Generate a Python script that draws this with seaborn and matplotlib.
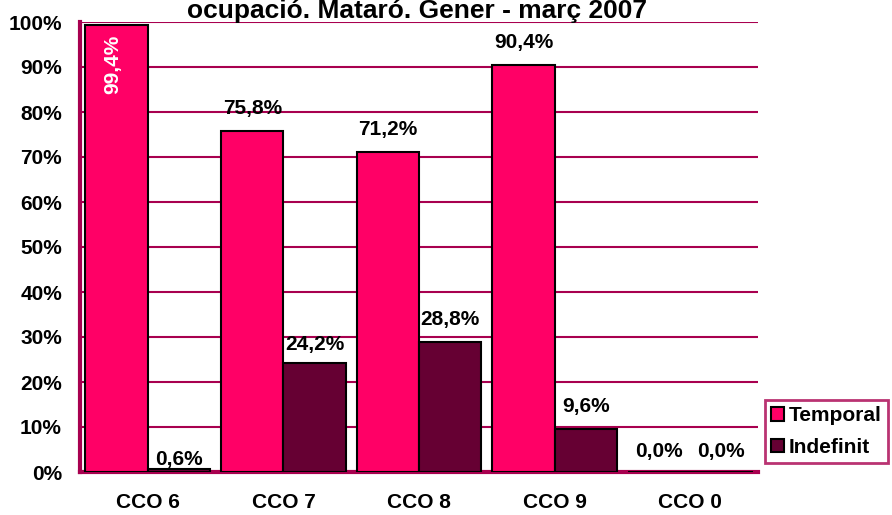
import matplotlib
matplotlib.use("Agg")
import matplotlib.pyplot as plt
import seaborn as sns
import pandas as pd
from matplotlib.patches import Patch

categories = ["CCO 6", "CCO 7", "CCO 8", "CCO 9", "CCO 0"]
temporal = [99.4, 75.8, 71.2, 90.4, 0.0]
indefinit = [0.6, 24.2, 28.8, 9.6, 0.0]
series = ["Temporal", "Indefinit"]
yticks = [0, 10, 20, 30, 40, 50, 60, 70, 80, 90, 100]
title = "ocupació. Mataró. Gener - març 2007"

c_temp = "#FF0066"
c_ind = "#660033"
c_axis = "#A8004F"
FS = 15

# label gap above bar top, in pixels (layout only)
default_gap = 17
special_gap = {("Indefinit", "CCO 6"): 4, ("Indefinit", "CCO 7"): 13,
               ("Temporal", "CCO 0"): 15, ("Indefinit", "CCO 0"): 15}

df = pd.DataFrame({
    "cat": categories * 2,
    "serie": ["Temporal"] * len(categories) + ["Indefinit"] * len(categories),
    "val": temporal + indefinit,
})

sns.set_theme(style="white")
plt.rcParams["font.family"] = ["Liberation Sans", "DejaVu Sans"]
plt.rcParams["font.weight"] = "bold"
plt.rcParams["text.color"] = "black"
plt.rcParams["xtick.color"] = "black"
plt.rcParams["ytick.color"] = "black"

fig = plt.figure(figsize=(8.92, 5.15), dpi=100)
ax = fig.add_axes([80/892, 1-472/515, (758-80)/892, (472-22)/515])

sns.barplot(data=df, x="cat", y="val", hue="serie", order=categories,
            hue_order=series, palette=[c_temp, c_ind], width=0.92,
            saturation=1, edgecolor="black", linewidth=1.5, ax=ax,
            legend=False, zorder=3)

ax.set_ylim(0, 100)
ax.set_xlim(-0.5, len(categories) - 0.5)
ax.set_yticks(yticks)
ax.set_yticklabels([f"{v}%" for v in yticks], fontsize=FS, fontweight="bold")
for y in yticks[1:]:
    ax.axhline(y, color=c_axis, lw=1.5, zorder=1)

ax.set_xticks(range(len(categories)))
ax.set_xticklabels(categories, fontsize=FS, fontweight="bold")
ax.tick_params(axis="x", which="major", length=0, pad=15, labelcolor="black")
ax.set_xticks([i - 0.5 for i in range(len(categories) + 1)], minor=True)
ax.tick_params(axis="x", which="minor", length=6, width=2.5, color=c_axis, direction="out")
ax.tick_params(axis="y", length=6, width=2.5, color=c_axis, direction="out", pad=7,
               labelcolor="black")

for s in ["top", "right"]:
    ax.spines[s].set_visible(False)
for s in ["left", "bottom"]:
    ax.spines[s].set_color(c_axis)
    ax.spines[s].set_linewidth(3)
ax.set_xlabel("")
ax.set_ylabel("")

# value labels
for cont, vals, name in zip(ax.containers, [temporal, indefinit], series):
    for bar, v, cat in zip(cont, vals, categories):
        x = bar.get_x() + bar.get_width() / 2
        txt = f"{v:.1f}%".replace(".", ",")
        if v > 95:
            ax.annotate(txt, (x, v), xytext=(-3, -7), textcoords="offset points",
                        rotation=90, ha="center", va="top", color="white",
                        fontsize=FS, fontweight="bold", zorder=5)
        else:
            gap = special_gap.get((name, cat), default_gap) / 1.389
            ax.annotate(txt, (x, v), xytext=(0, gap), textcoords="offset points",
                        ha="center", va="baseline", color="black",
                        fontsize=FS, fontweight="bold", zorder=5)

fig.text(417/892, 1.0 - 18/515, title, ha="center", va="baseline",
         fontsize=19, fontweight="bold")

handles = [Patch(facecolor=c_temp, edgecolor="black", lw=1.5),
           Patch(facecolor=c_ind, edgecolor="black", lw=1.5)]
leg = fig.legend(handles, series, loc="upper left",
                 bbox_to_anchor=(765/892, 1-400/515), frameon=True,
                 fancybox=False, prop={"weight": "bold", "size": FS},
                 handlelength=0.6, handleheight=0.6, handletextpad=0.25,
                 borderpad=0.3, labelspacing=0.6, borderaxespad=0)
leg.get_frame().set_edgecolor(c_axis)
leg.get_frame().set_linewidth(2)

fig.savefig("out.png", dpi=100)
